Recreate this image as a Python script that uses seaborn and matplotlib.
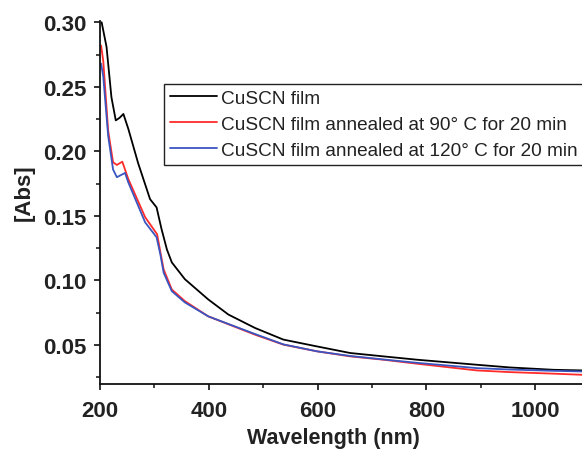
import numpy as np
import pandas as pd
import matplotlib
matplotlib.use("Agg")
import matplotlib.pyplot as plt
from matplotlib.ticker import MultipleLocator, FormatStrFormatter
import seaborn as sns

# ---- data ----
series_names = ["CuSCN film",
                "CuSCN film annealed at 90° C for 20 min",
                "CuSCN film annealed at 120° C for 20 min"]

wl_black = [203, 212, 221, 229, 236, 243, 252, 270, 292, 304, 313, 323, 332, 356,
            399, 436, 485, 537, 599, 660, 721, 783, 893, 954, 1034, 1088]
abs_black = [0.300, 0.281, 0.242, 0.224, 0.226, 0.229, 0.2175, 0.191, 0.163, 0.1566,
             0.140, 0.124, 0.114, 0.101, 0.0853, 0.0736, 0.0632, 0.0542, 0.0489,
             0.0438, 0.0412, 0.0386, 0.0347, 0.0326, 0.0308, 0.0303]

wl_red = [202, 206, 215, 224, 231, 241, 252, 283, 298, 305, 311, 317, 332, 356,
          399, 485, 537, 599, 660, 721, 783, 893, 954, 1034, 1088]
abs_red = [0.282, 0.270, 0.216, 0.1916, 0.1895, 0.192, 0.1786, 0.149, 0.140, 0.1358,
           0.122, 0.1086, 0.093, 0.084, 0.0722, 0.058, 0.0503, 0.0451, 0.0412,
           0.0386, 0.0355, 0.0303, 0.0290, 0.0278, 0.0269]

wl_blue = [202, 206, 215, 224, 231, 246, 252, 283, 304, 311, 317, 332, 356,
           399, 485, 537, 599, 660, 721, 783, 893, 954, 1034, 1088]
abs_blue = [0.268, 0.258, 0.212, 0.186, 0.180, 0.1833, 0.176, 0.145, 0.1335,
            0.120, 0.106, 0.0917, 0.083, 0.0722, 0.0585, 0.0505, 0.0451, 0.0415,
            0.0388, 0.0362, 0.0321, 0.0310, 0.0300, 0.0295]

x_ticks = [200, 400, 600, 800, 1000]
y_ticks = [0.05, 0.10, 0.15, 0.20, 0.25, 0.30]

df = pd.concat([
    pd.DataFrame({"wl": wl_black, "abs": abs_black, "series": series_names[0]}),
    pd.DataFrame({"wl": wl_red, "abs": abs_red, "series": series_names[1]}),
    pd.DataFrame({"wl": wl_blue, "abs": abs_blue, "series": series_names[2]}),
], ignore_index=True)

# ---- style ----
sns.set_theme(style="ticks")
plt.rcParams["font.family"] = ["Liberation Sans", "DejaVu Sans"]

fig = plt.figure(figsize=(5.82, 4.52), dpi=100)
ax = fig.add_axes([100 / 582, 1 - 385 / 452, (582 - 100) / 582, (385 - 22) / 452])

palette = {series_names[0]: "#000000",
           series_names[1]: "#ff2a2a",
           series_names[2]: "#3a55c0"}

sns.lineplot(data=df, x="wl", y="abs", hue="series", palette=palette,
             sort=True, estimator=None, linewidth=1.3, ax=ax)

ax.set_xlim(200, 1086)
ax.set_ylim(0.0198, 0.301)
ax.set_xticks(x_ticks)
ax.set_yticks(y_ticks)
ax.xaxis.set_minor_locator(MultipleLocator(100))
ax.yaxis.set_minor_locator(MultipleLocator(0.025))
ax.yaxis.set_major_formatter(FormatStrFormatter("%.2f"))

for side in ["top", "right"]:
    ax.spines[side].set_visible(False)
for side in ["left", "bottom"]:
    ax.spines[side].set_linewidth(1.3)
    ax.spines[side].set_color("#111111")

ax.tick_params(axis="both", which="major", direction="out", length=4.5, width=1.2,
               color="#111111", labelsize=16, labelcolor="#222222")
ax.tick_params(axis="y", which="major", pad=5)
ax.tick_params(axis="x", which="major", pad=7)
ax.tick_params(axis="both", which="minor", direction="out", length=3, width=1.1,
               color="#111111")
for lab in ax.get_xticklabels() + ax.get_yticklabels():
    lab.set_fontweight("bold")

ax.set_xlabel("Wavelength (nm)", fontsize=15.5, fontweight="bold", color="#222222")
ax.set_ylabel("[Abs]", fontsize=16, fontweight="bold", color="#222222")
ax.xaxis.set_label_coords(0.485, -0.118)
ax.yaxis.set_label_coords(-0.135, 0.53)

leg = ax.legend(loc="upper left", bbox_to_anchor=(164 / 582, 1 - 85 / 452),
                bbox_transform=fig.transFigure, borderaxespad=0, frameon=True,
                fancybox=False, edgecolor="#222222", framealpha=1,
                fontsize=13.7, handlelength=2.5, handletextpad=0.2,
                labelspacing=0.45, borderpad=0.3, title=None)
leg.get_frame().set_linewidth(1.0)
for line in leg.get_lines():
    line.set_linewidth(1.3)
for t in leg.get_texts():
    t.set_color("#222222")

fig.savefig("out.png", dpi=100, facecolor="white")
